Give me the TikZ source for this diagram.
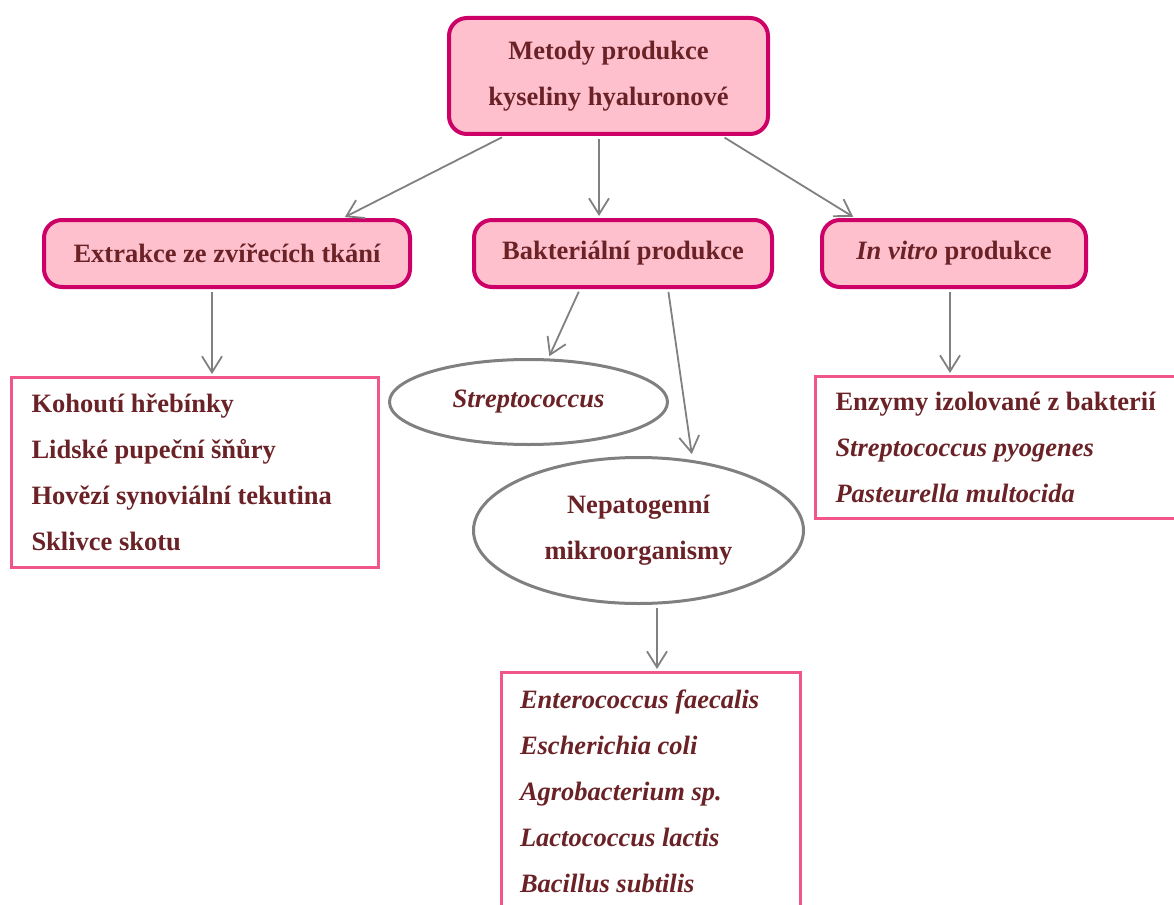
\documentclass[tikz,border=0pt]{standalone}
\usepackage{fontspec}
\setmainfont{Liberation Serif}
\usetikzlibrary{positioning,arrows.meta,shapes.geometric}
\definecolor{txtbrown}{RGB}{106,34,38}
\definecolor{boxpink}{RGB}{255,192,205}
\definecolor{boxline}{RGB}{204,0,102}
\definecolor{listline}{RGB}{240,85,140}
\definecolor{arrgray}{RGB}{128,128,128}

\begin{document}
\begin{tikzpicture}[
  x=1pt, y=-1pt,
  every node/.style={text=txtbrown, font=\fontsize{26.5}{46}\selectfont\bfseries},
  blk/.style={draw=boxline, fill=boxpink, line width=4pt, rounded corners=18pt,
              align=center, inner sep=0pt},
  lst/.style={draw=listline, line width=3pt, align=flush left, inner xsep=20pt,
              inner ysep=0pt},
  ell/.style={draw=arrgray, ellipse, line width=3pt, align=center, inner sep=0pt},
  arr/.style={-{Straight Barb[length=16pt,width=20pt]}, draw=arrgray,
              line width=1.8pt, shorten <=3pt, shorten >=2pt}
]
\useasboundingbox (0,0) rectangle (1174,904);

\node[blk, minimum width=319pt, minimum height=116pt] (metody) at (608.5,76)
  {Metody produkce\\kyseliny hyaluronové};

\node[blk, minimum width=366pt, minimum height=67pt] (extr)    at (227,253.5)
  {Extrakce ze zvířecích tkání};
\node[blk, minimum width=298pt, minimum height=67pt] (bakt)    at (623,253.5)
  {Bakteriální produkce};
\node[blk, minimum width=264pt, minimum height=67pt] (invitro) at (954,253.5)
  {\textit{In vitro} produkce};

\node[lst, text width=327pt, minimum height=190pt] (kohout) at (195,472.5)
  {Kohoutí hřebínky\\Lidské pupeční šňůry\\Hovězí synoviální tekutina\\Sklivce skotu};
\node[lst, text width=345pt, minimum height=142pt] (enzym) at (1008,447.5)
  {Enzymy izolované z bakterií\\\textit{Streptococcus pyogenes}\\\textit{Pasteurella multocida}};

\node[ell, minimum width=278pt, minimum height=85pt] (strep) at (528.5,402)
  {\textit{Streptococcus}};
\node[ell, minimum width=330pt, minimum height=146pt] (nepat) at (638.5,530.5)
  {Nepatogenní\\mikroorganismy};

\node[lst, inner xsep=18.5pt, text width=262pt, minimum height=237pt] (kmeny) at (651,791)
  {\textit{Enterococcus faecalis}\\\textit{Escherichia coli}\\\textit{Agrobacterium sp.}\\
   \textit{Lactococcus lactis}\\\textit{Bacillus subtilis}};

\draw[arr] ([xshift=-104pt]metody.south) -- ([xshift=116pt]extr.north);
\draw[arr] ([xshift=-9.5pt]metody.south) -- ([xshift=-9.5pt]metody.south |- bakt.north);
\draw[arr] ([xshift=113.5pt]metody.south) -- ([xshift=-99pt]invitro.north);
\draw[arr] ([xshift=-15pt]extr.south) -- ([xshift=-15pt]extr.south |- kohout.north);
\draw[arr] ([xshift=-43pt]bakt.south) -- ([xshift=20pt]strep.north);
\draw[arr] ([xshift=45pt]bakt.south) -- ([xshift=53.5pt]nepat.north);
\draw[arr] ([xshift=-4pt]invitro.south) -- ([xshift=-4pt]invitro.south |- enzym.north);
\draw[arr] ([xshift=18.5pt]nepat.south) -- ([xshift=18.5pt]nepat.south |- kmeny.north);
\end{tikzpicture}
\end{document}
